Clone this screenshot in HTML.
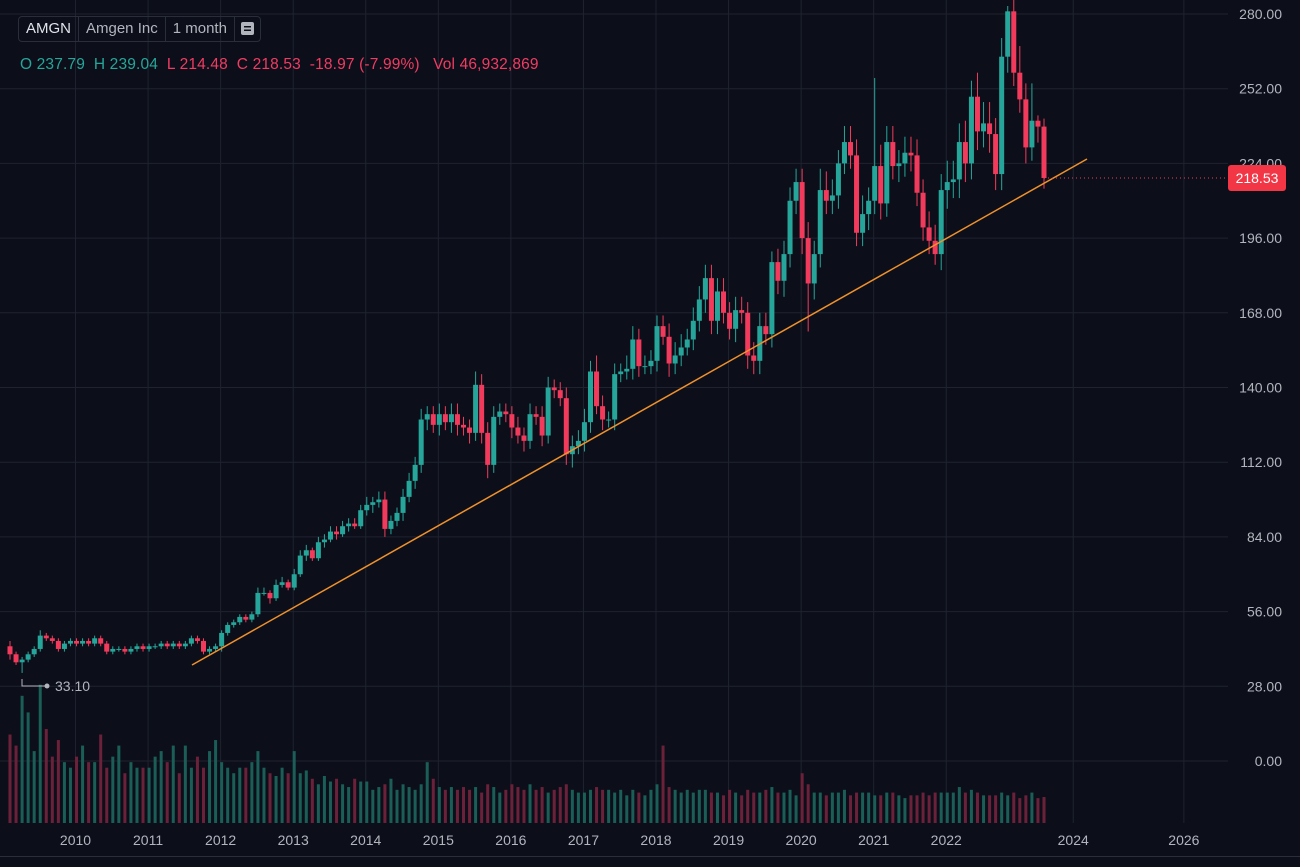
<!DOCTYPE html>
<html><head><meta charset="utf-8">
<style>
html,body{margin:0;padding:0;background:#0c0f19;width:1300px;height:867px;overflow:hidden;font-family:"Liberation Sans",sans-serif;}
#hdr{position:absolute;left:18px;top:16px;height:24px;border:1px solid #2a2e3b;border-radius:4px;display:flex;align-items:center;font-size:15px;color:#b2b5be;}
#hdr span{padding:0 7px;height:24px;line-height:24px;border-right:1px solid #2a2e3b;}
#hdr span.t{color:#e0e3eb;}
#ohlc{position:absolute;left:20px;top:56px;font-size:15.5px;color:#f23b63;white-space:pre;letter-spacing:0.15px;}
.g{color:#26a69a}
</style></head><body>
<svg id="chart" width="1300" height="867" style="position:absolute;left:0;top:0"></svg>
<div id="hdr"><span class="t">AMGN</span><span>Amgen Inc</span><span>1 month</span><span style="border:none;padding:0 6px"><svg width="13" height="13" style="vertical-align:-2px"><rect width="13" height="13" rx="2" fill="#b2b5be"/><rect x="3" y="4" width="7" height="1.5" fill="#0c0f19"/><rect x="3" y="7.5" width="7" height="1.5" fill="#0c0f19"/></svg></span></div>
<div id="ohlc"><span class="g">O 237.79  H 239.04</span>  L 214.48  C 218.53  -18.97 (-7.99%)   Vol 46,932,869</div>
<script>
const closes=[40,37,38,40,42,47,46,45,42,44,45,
44,45,44,46,44,41,42,42,41,42,43,42,
43,43,44,43,44,43,44,46,45,41,42,43,
48,51,52,54,53,55,63,63,61,66,67,65,
70,77,79,76,82,83,86,85,88,89,88,94,
96,97,98,87,90,93,99,105,111,128,130,126,
130,127,130,126,125,123,141,123,111,129,131,130,
125,122,120,130,129,122,140,139,136,115,118,120,
127,146,133,128,128,145,146,147,158,148,148,150,
163,159,149,152,155,158,165,173,181,165,176,168,
162,169,168,152,150,163,160,187,180,190,210,217,
196,179,190,214,210,212,224,232,227,198,205,210,
223,209,232,223,224,228,227,213,200,195,190,214,
217,218,232,224,249,236,239,235,220,264,281,258,
248,230,240,237.79,218.53];
const wickUp=[2,1,1,1,1,2,1,1,1,1,1, 1,1,1,1,1,1,1,1,1,1,1,1, 1,1,1,1,1,1,1,1,1,1,1,1, 1,1,1,1,1,1,2,2,1,2,2,1,
2,2,2,1,2,2,2,2,2,2,2,2, 3,2,3,3,2,2,3,3,3,4,3,3, 4,3,4,4,3,3,5,4,4,4,3,3, 3,4,3,4,3,4,4,3,3,4,4,4,
5,4,6,4,3,4,3,5,5,4,4,4, 4,4,5,5,5,4,5,5,5,5,5,5, 4,5,5,4,5,5,5,4,5,5,5,5, 5,6,5,8,7,6,5,6,6,6,7,5,
33,8,6,6,5,6,6,6,5,6,6,6, 8,7,7,8,6,9,8,8,6,7,2,18, 10,6,14,2,3];
const wickDn=[2,1,4,1,1,1,1,1,1,1,1, 1,1,1,1,1,1,1,1,1,1,1,1, 1,1,1,1,1,1,1,1,1,1,1,1, 2,1,1,1,1,1,1,1,2,1,1,1,
1,1,2,1,1,2,1,2,1,2,1,1, 2,3,2,3,2,2,3,2,3,3,4,3, 4,3,4,4,3,4,3,4,5,3,3,3, 4,3,4,3,3,4,3,3,3,4,5,3,
4,4,3,4,3,4,3,3,4,4,3,3, 4,3,5,4,4,3,4,4,5,5,5,4, 4,5,4,5,5,5,4,5,5,6,5,5, 6,18,6,5,5,5,5,4,5,5,5,6,
5,6,5,5,6,5,6,5,5,5,4,6, 7,6,7,7,6,7,6,7,6,6,6,5, 5,6,5,6,4];
const volumes=[160,140,230,200,130,250,170,120,150,110,100,
120,140,110,110,160,100,120,140,90,110,100,100,
100,120,130,110,140,90,140,100,120,100,130,150,
110,100,90,100,100,110,130,100,90,85,100,90,
130,90,95,80,70,85,75,80,70,65,80,75,
75,60,65,70,80,60,70,65,60,70,110,80,
65,60,65,60,65,60,65,55,70,65,55,60,
70,65,60,70,60,65,55,60,65,70,60,55,
55,60,65,60,60,55,60,50,60,55,50,60,
70,140,65,60,55,60,55,60,60,55,55,50,
60,55,50,60,55,55,60,65,55,55,60,50,
90,70,55,55,50,55,55,60,50,55,55,55,
50,50,55,55,50,45,50,50,55,50,55,55,
55,55,65,55,60,55,50,50,50,55,50,55,
45,50,55,45,47];
const firstOpen=43;
const priceTicks=[280,252,224,196,168,140,112,84,56,28,0];
const yearLabels=["2010","2011","2012","2013","2014","2015","2016","2017","2018","2019","2020","2021","2022","2024","2026"];
const yearIdx=[11,23,35,47,59,71,83,95,107,119,131,143,155,176,194.3];

const NS="http://www.w3.org/2000/svg";
const svg=document.getElementById('chart');
function el(t,a,p){const e=document.createElementNS(NS,t);for(const k in a)e.setAttribute(k,a[k]);(p||svg).appendChild(e);return e;}
const y=v=>761-v*(747/280);
const x=i=>10+i*(1034/171);
const volY=v=>823-v*0.553;
const GREEN="#26a69a",RED="#f23b5c";

const grid=el('g',{});


priceTicks.forEach(v=>{
  const l=el('line',{x1:0,x2:1228,y1:y(v),y2:y(v),stroke:'#1f2330','stroke-width':1},grid);
  
  
  const t=el('text',{x:1282,y:y(v)+5,'text-anchor':'end',fill:'#b2b5be','font-size':14,'font-family':'Liberation Sans, sans-serif'});
  t.textContent=v.toFixed(2);
  
  
});
yearIdx.forEach((idx,k)=>{
  const xx=x(idx)-1;
  const l=el('line',{x1:xx,x2:xx,y1:0,y2:823,stroke:'#1f2330','stroke-width':1},grid);
  
  
  const t=el('text',{x:xx,y:845,'text-anchor':'middle',fill:'#b2b5be','font-size':14,'font-family':'Liberation Sans, sans-serif'});
  t.textContent=yearLabels[k];
  
  
});
const ax=el('line',{x1:0,x2:1300,y1:856.5,y2:856.5,stroke:'#2a2e39'});



const vg=el('g',{});


const cg=el('g',{});


let prev=firstOpen;
closes.forEach((c,i)=>{
  const o=prev; prev=c;
  const up=c>=o, col=up?GREEN:RED;
  const hi=Math.max(o,c)+wickUp[i], lo=Math.min(o,c)-wickDn[i];
  const cx=x(i);
  const vb=el('rect',{x:cx-1.5,y:volY(volumes[i]),width:3,height:823-volY(volumes[i]),fill:up?'#1a5e57':'#6b2139'},vg);
  
  
  const w=el('line',{x1:cx,x2:cx,y1:y(hi),y2:y(lo),stroke:col,'stroke-width':1},cg);
  
  
  const b=el('rect',{x:cx-2.5,y:y(Math.max(o,c)),width:5,height:Math.max(1,y(Math.min(o,c))-y(Math.max(o,c))),fill:col},cg);
  
  
});

const tl=el('line',{x1:192,y1:665,x2:1087,y2:159,stroke:'#f0912b','stroke-width':1.5});



const last=closes[closes.length-1];
const pl=el('line',{x1:x(closes.length-1),x2:1228,y1:y(last),y2:y(last),stroke:RED,'stroke-dasharray':'1 3','stroke-width':1});


const pb=el('rect',{x:1228,y:y(last)-13,width:58,height:26,rx:3,fill:'#f23645'});


const pt=el('text',{x:1257,y:y(last)+5,'text-anchor':'middle',fill:'#fff','font-size':14,'font-family':'Liberation Sans, sans-serif'});
pt.textContent=last.toFixed(2);



const mg=el('g',{});


el('path',{d:'M22 679 V686 H46',stroke:'#b2b5be',fill:'none','stroke-width':1},mg);
el('circle',{cx:47,cy:686,r:2.5,fill:'#b2b5be'},mg);
const mt=el('text',{x:55,y:691,fill:'#b2b5be','font-size':14,'font-family':'Liberation Sans, sans-serif'},mg);
mt.textContent='33.10';
</script>
</body></html>
